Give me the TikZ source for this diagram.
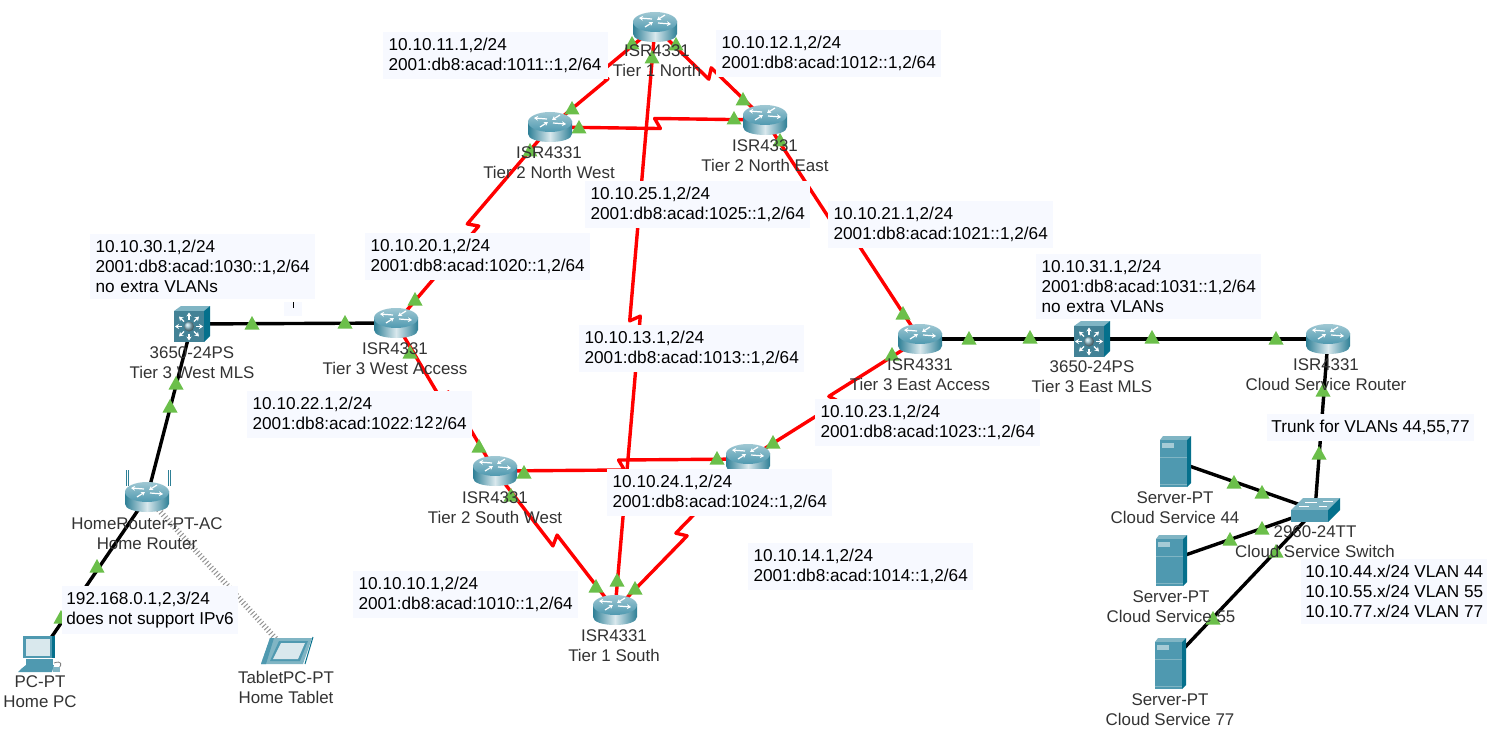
\documentclass[tikz,border=0pt]{standalone}
\usepackage{fontspec}
\setmainfont{Liberation Sans}
\usepackage{xcolor}
\usepackage{tikz}
\usetikzlibrary{arrows.meta,calc}
\definecolor{notefill}{rgb}{0.97,0.975,1.00}
\definecolor{lampgreen}{rgb}{0.42,0.75,0.29}
\definecolor{devtext}{rgb}{0.20,0.20,0.20}
\definecolor{serialred}{rgb}{1.00,0.00,0.00}
\definecolor{ciscotop}{rgb}{0.50,0.71,0.77}
\definecolor{ciscomid}{rgb}{0.31,0.60,0.69}
\definecolor{ciscodark}{rgb}{0.02,0.44,0.55}
\definecolor{ciscoedge}{rgb}{0.18,0.50,0.59}
\definecolor{ciscopale}{rgb}{0.85,0.91,0.93}
\tikzset{
  devspot/.style={inner sep=0pt, outer sep=0pt, minimum size=0pt},
  devlabel/.style={text=devtext, align=center, inner sep=0pt, font=\fontsize{8.45}{10}\selectfont},
  notefree/.style={fill=notefill, anchor=north west, align=left, text=black,
    inner xsep=2pt, inner ysep=3pt, font=\fontsize{8.6}{10}\selectfont},
  notebox/.style={notefree, text width=107pt, inner xsep=2.6pt},
  wire/.style={black, line width=1.7pt},
  serial/.style={serialred, line width=1.7pt, line join=round,
    to path={-- ($(\tikztostart)!0.5!(\tikztotarget)!2.9pt!-62:(\tikztotarget)$)
      -- ($(\tikztostart)!0.5!(\tikztotarget)!2.9pt!118:(\tikztotarget)$) -- (\tikztotarget)}},
  wireless/.style={gray!85, line width=2.8pt, dash pattern=on 0.5pt off 1.2pt},
  pics/lamp/.style={code={\fill[lampgreen] (-7.5,6.5)--(7.5,6.5)--(0,-7)--cycle;}},
  pics/router/.style={code={
    \shade[left color=ciscoedge, right color=ciscoedge, middle color=ciscopale]
      (-22,-6)--(-22,7) .. controls (-22,12) and (-12,15) .. (0,15)
      .. controls (12,15) and (22,12) .. (22,7)--(22,-6)--cycle;
    \shade[top color=ciscotop!75!white, bottom color=ciscomid] (0,-5) ellipse [x radius=22, y radius=10];
    \foreach \ax/\ay/\bx/\by in {-3/-8/-16/-9, 3/-4/16/-3, -10/0/-2/-5, 10/-12/2/-7}
      \draw[white, line width=0.6pt, -{Stealth[length=2pt,width=2.4pt]}] (\ax,\ay)--(\bx,\by);
  }},
  pics/mls/.style={code={
    \fill[ciscotop] (-18,-13)--(-11,-18)--(18,-18)--(12,-13)--cycle;
    \fill[ciscodark] (12,-13)--(18,-18)--(18,12)--(12,18)--cycle;
    \fill[ciscomid!85!black] (-18,-13) rectangle (12,18);
    \foreach \ang in {0,45,...,315}
      \draw[white, line width=0.6pt, -{Stealth[length=2pt,width=2.6pt]}]
        ($(-3,2.5)+(\ang:7)$)--($(-3,2.5)+(\ang:14)$);
    \shade[ball color=ciscomid!60!white] (-3,2.5) circle (5);
  }},
  pics/switchbox/.style={code={
    \fill[ciscotop] (-24,0)--(-12,-12)--(25,-12)--(13,0)--cycle;
    \fill[ciscomid] (-24,0) rectangle (13,12);
    \fill[ciscodark] (13,0)--(25,-12)--(25,0)--(13,12)--cycle;
    \foreach \ax/\ay/\bx/\by in {-10/-8/2/-8, 8/-9/18/-9, -16/-4/-6/-4, 4/-4/12/-4}
      \draw[white, line width=0.5pt] (\ax,\ay)--(\bx,\by);
  }},
  pics/server/.style={code={
    \fill[ciscotop] (-15,-21)--(-12,-25)--(16,-25)--(12,-21)--cycle;
    \fill[ciscodark] (12,-21)--(16,-25)--(16,22)--(12,26)--cycle;
    \fill[ciscomid] (-15,-21) rectangle (12,26);
    \fill[ciscotop!70!white] (-13,-18) rectangle (-1,-13);
    \draw[ciscotop, line width=0.3pt] (-15,-4)--(12,-4) (-15,23)--(12,23);
  }},
  pics/pcbox/.style={code={
    \fill[ciscomid] (-17,-18) rectangle (12,4);
    \fill[ciscodark] (12,-18) rectangle (15,4);
    \fill[ciscopale] (-14,-15) rectangle (10,2);
    \fill[ciscomid] (-14,5) rectangle (13,11);
    \fill[ciscomid] (-19,15)--(-14,11)--(14,11)--(12,18)--(-22,18)--cycle;
    \draw[gray, line width=0.4pt] (14,9) .. controls (22,6) and (22,11) .. (19,14);
    \fill[ciscotop] (13,13) rectangle (20,18);
  }},
  pics/tabletbox/.style={code={
    \fill[ciscotop] (-17,-13)--(25,-13)--(16,13)--(-26,13)--cycle;
    \fill[ciscomid] (-17,-13)--(-13,-13)--(-21,13)--(-26,13)--cycle;
    \fill[ciscomid] (-8,-10)--(21,-10)--(13,10)--(-17,10)--cycle;
    \fill[ciscopale] (-6,-8)--(18,-8)--(11,8)--(-14,8)--cycle;
    \draw[ciscodark, line width=0.5pt] (26,-14)--(18,13);
  }}
}
\begin{document}
\begin{tikzpicture}[x=0.5pt,y=-0.5pt]
  \useasboundingbox (0,0) rectangle (1495,738);
  \fill[white] (0,0) rectangle (1495,738);

  \node[devspot] (rtrN) at (655,27){};
  \node[devspot] (rtrNW) at (550,127){};
  \node[devspot] (rtrNE) at (765,120){};
  \node[devspot] (rtrWA) at (396,323){};
  \node[devspot] (rtrEA) at (920,339){};
  \node[devspot] (rtrSW) at (495,471){};
  \node[devspot] (rtrSE) at (748,459){};
  \node[devspot] (rtrS) at (615,610){};
  \node[devspot] (rtrCloud) at (1328,339){};
  \node[devspot] (rtrHome) at (147,497){};
  \node[devspot] (mlsW) at (192,324){};
  \node[devspot] (mlsE) at (1092,339){};
  \node[devspot] (swCloud) at (1315,510){};
  \node[devspot] (srvA) at (1175,461){};
  \node[devspot] (srvB) at (1171,560){};
  \node[devspot] (srvC) at (1170,663){};
  \node[devspot] (pcHome) at (40,654){};
  \node[devspot] (tabHome) at (287,651){};

  \draw[serial] (rtrNW) to (rtrN);
  \draw[serial] (rtrN) to (rtrNE);
  \draw[serial] (rtrNW) to (rtrNE);
  \draw[serial] (rtrN) to (rtrS);
  \draw[serial] (rtrNW) to (rtrWA);
  \draw[serial] (rtrNE) to (rtrEA);
  \draw[serial] (rtrWA) to (rtrSW);
  \draw[serial] (rtrSE) to (rtrEA);
  \draw[serial] (rtrSW) to (rtrSE);
  \draw[serial] (rtrSW) to (rtrS);
  \draw[serial] (rtrS) to (rtrSE);

  \draw[wire] (mlsW)--(rtrWA);
  \draw[wire] (rtrHome)--(mlsW);
  \draw[wire] (rtrHome)--(pcHome);
  \draw[wire] (rtrEA)--(mlsE);
  \draw[wire] (mlsE)--(rtrCloud);
  \draw[wire] (rtrCloud)--(swCloud);
  \draw[wire] (srvA)--(swCloud);
  \draw[wire] (srvB)--(swCloud);
  \draw[wire] (srvC)--(swCloud);
  \draw[wireless] (rtrHome)--(tabHome);

  \draw[ciscoedge, line width=0.5pt] (126,470)--(126,486) (128,470)--(128,486) (168,470)--(168,486) (170,470)--(170,486);

  \foreach \nm in {rtrN,rtrNW,rtrNE,rtrWA,rtrEA,rtrSW,rtrSE,rtrS,rtrCloud,rtrHome}
    \pic at (\nm){router};
  \foreach \nm in {mlsW,mlsE}
    \pic at (\nm){mls};
  \pic at (swCloud){switchbox};
  \foreach \nm in {srvA,srvB,srvC}
    \pic at (\nm){server};
  \pic at (pcHome){pcbox};
  \pic at (tabHome){tabletbox};

  \foreach \lx/\ly in {632/43,652/57,676/44,572/108,579/127,530/150,743/99,734/118,780/140,
    415/299,345/322,252/323,410/352,176/383,170/406,479/446,524/472,511/495,
    596/586,617/580,635/588,717/458,773/442,903/313,892/354,969/338,1030/337,
    1152/337,1276/338,1323/390,1319/453,97/566,61/617,1234/482,1262/492,
    1262/528,1230/539,1276/551,1213/618}
    \pic at (\lx,\ly){lamp};

  \node[devlabel] (lblN) at (657,61){ISR4331\\Tier 1 North};
  \node[devlabel] (lblNW) at (549,163){ISR4331\\Tier 2 North West};
  \node[devlabel] (lblNE) at (765,156){ISR4331\\Tier 2 North East};
  \node[devlabel] (lblWA) at (395,359){ISR4331\\Tier 3 West Access};
  \node[devlabel] (lblEA) at (920,375){ISR4331\\Tier 3 East Access};
  \node[devlabel] (lblSW) at (495,508){ISR4331\\Tier 2 South West};
  \node[devlabel] (lblS) at (614,646){ISR4331\\Tier 1 South};
  \node[devlabel] (lblCloud) at (1326,375){ISR4331\\Cloud Service Router};
  \node[devlabel] (lblHome) at (147,534){HomeRouter-PT-AC\\Home Router};
  \node[devlabel] (lblMlsW) at (192,363){3650-24PS\\Tier 3 West MLS};
  \node[devlabel] (lblMlsE) at (1092,377){3650-24PS\\Tier 3 East MLS};
  \node[devlabel] (lblSw) at (1315,542){2960-24TT\\Cloud Service Switch};
  \node[devlabel] (lblSrvA) at (1175,508){Server-PT\\Cloud Service 44};
  \node[devlabel] (lblSrvB) at (1171,607){Server-PT\\Cloud Service 55};
  \node[devlabel] (lblSrvC) at (1170,710){Server-PT\\Cloud Service 77};
  \node[devlabel] (lblPc) at (40,692){PC-PT\\Home PC};
  \node[devlabel] (lblTab) at (286,687){TabletPC-PT\\Home Tablet};

  \node[notebox] (ipNW) at (383,32){10.10.11.1,2/24\\2001:db8:acad:1011::1,2/64};
  \node[notebox] (ipNE) at (716,30){10.10.12.1,2/24\\2001:db8:acad:1012::1,2/64};
  \node[notebox] (ipNS) at (585,181){10.10.25.1,2/24\\2001:db8:acad:1025::1,2/64};
  \node[notebox] (ipE) at (828,201){10.10.21.1,2/24\\2001:db8:acad:1021::1,2/64};
  \node[notebox] (ipW) at (365,233){10.10.20.1,2/24\\2001:db8:acad:1020::1,2/64};
  \node[notebox] (ipMlsW) at (90,234){10.10.30.1,2/24\\2001:db8:acad:1030::1,2/64\\no extra VLANs};
  \node[notebox] (ipMid) at (579,325){10.10.13.1,2/24\\2001:db8:acad:1013::1,2/64};
  \node[notebox] (ipWS) at (247,391){10.10.22.1,2/24\\2001:db8:acad:1022:\phantom{:1,}2/64};
  \node[notebox] (ipES) at (815,399){10.10.23.1,2/24\\2001:db8:acad:1023::1,2/64};
  \node[notebox] (ipSS) at (607,469){10.10.24.1,2/24\\2001:db8:acad:1024::1,2/64};
  \node[notebox] (ipSE) at (748,543){10.10.14.1,2/24\\2001:db8:acad:1014::1,2/64};
  \node[notebox] (ipSW) at (353,571){10.10.10.1,2/24\\2001:db8:acad:1010::1,2/64};
  \node[notebox] (ipMlsE) at (1036,254){10.10.31.1,2/24\\2001:db8:acad:1031::1,2/64\\no extra VLANs};
  \node[notefree] (ipHome) at (62,586){192.168.0.1,2,3/24\\does not support IPv6};
  \node[notefree] (ipTrunk) at (1267,414){Trunk for VLANs 44,55,77};
  \node[notefree] (ipVlan) at (1301,559){10.10.44.x/24 VLAN 44\\10.10.55.x/24 VLAN 55\\10.10.77.x/24 VLAN 77};

  \node[fill=notefill, inner sep=1pt, font=\fontsize{8.6}{10}\selectfont] (patch) at (424,422){12};
  \fill[notefill] (284,302) rectangle (302,316);
  \draw[black, line width=0.5pt] (293,302)--(293,308);
\end{tikzpicture}
\end{document}
